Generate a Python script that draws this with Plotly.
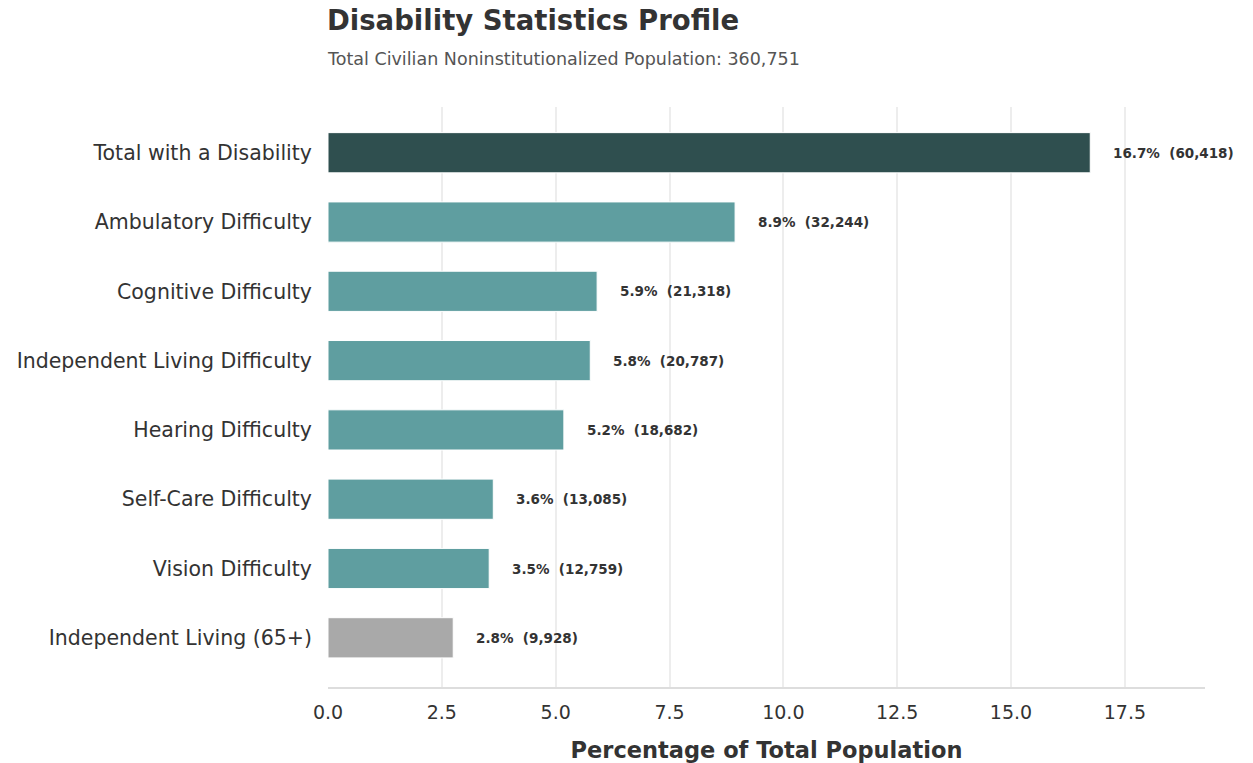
import plotly.graph_objects as go

categories = ["Total with a Disability", "Ambulatory Difficulty", "Cognitive Difficulty",
              "Independent Living Difficulty", "Hearing Difficulty", "Self-Care Difficulty",
              "Vision Difficulty", "Independent Living (65+)"]
percentages = [16.74, 8.94, 5.91, 5.76, 5.18, 3.63, 3.54, 2.75]
counts = [60418, 32244, 21318, 20787, 18682, 13085, 12759, 9928]
colors = ["#2F4F4F", "#5F9EA0", "#5F9EA0", "#5F9EA0", "#5F9EA0", "#5F9EA0", "#5F9EA0", "#A9A9A9"]
x_ticks = [0, 2.5, 5, 7.5, 10, 12.5, 15, 17.5]

FONT = "DejaVu Sans"

fig = go.Figure(go.Bar(
    x=percentages, y=categories, orientation="h",
    marker=dict(color=colors, line=dict(color="white", width=1)),
    width=0.58, hoverinfo="skip",
))

for c, p, n in zip(categories, percentages, counts):
    fig.add_annotation(x=p, y=c, xref="x", yref="y", xanchor="left", xshift=21,
                       text=f"<b>{p:.1f}%\u00a0 ({n:,})</b>", showarrow=False,
                       font=dict(family=FONT, size=13.5, color="#333333"))

fig.add_annotation(x=0, y=1, xref="paper", yref="paper", xanchor="left", yanchor="middle",
                   xshift=-3, yshift=107 - 20, text="<b>Disability Statistics Profile</b>",
                   showarrow=False, font=dict(family=FONT, size=27.5, color="#333333"))
fig.add_annotation(x=0, y=1, xref="paper", yref="paper", xanchor="left", yanchor="middle",
                   xshift=-3, yshift=107 - 59,
                   text="Total Civilian Noninstitutionalized Population: 360,751",
                   showarrow=False, font=dict(family=FONT, size=17.5, color="#555555"))

fig.update_layout(
    width=1253, height=763,
    margin=dict(l=328, r=48, t=107, b=76),
    plot_bgcolor="white", paper_bgcolor="white",
    showlegend=False,
    font=dict(family=FONT, color="#333333"),
    xaxis=dict(range=[0, 19.26], tickvals=x_ticks, ticktext=[f"{t:.1f}" for t in x_ticks],
               showgrid=True, gridcolor="#EDEDED", gridwidth=2, zeroline=False,
               showline=True, linecolor="#DDDDDD", linewidth=2, automargin=False,
               tickfont=dict(size=19, color="#333333"), ticks="", ticklen=0,
               ticklabelstandoff=7,
               title=dict(text="<b>Percentage of Total Population</b>", standoff=30,
                          font=dict(size=22.5, color="#333333"))),
    yaxis=dict(range=[7.71, -0.66], showgrid=False, zeroline=False, showline=False,
               automargin=False,
               tickfont=dict(size=20.5, color="#333333"), ticks="", ticklabelstandoff=15),
)

fig.write_html("out.html")
